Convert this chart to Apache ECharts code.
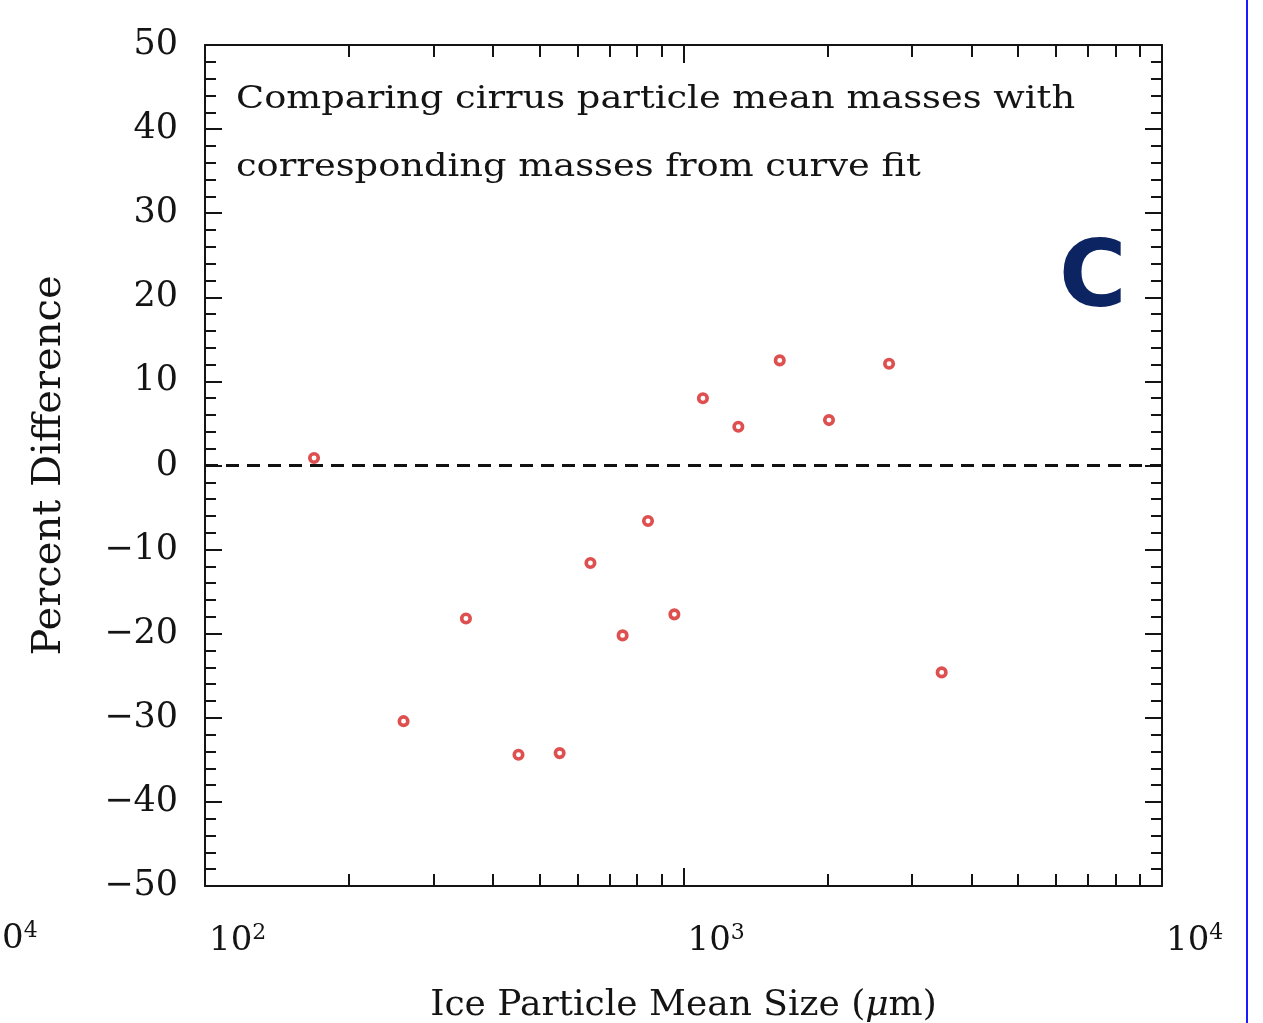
<!DOCTYPE html>
<html>
<head>
<meta charset="utf-8">
<script src="https://cdn.jsdelivr.net/npm/echarts@6/dist/echarts.min.js"></script>
<style>
  html, body { margin: 0; padding: 0; background: #ffffff; }
  #main { width: 1263px; height: 1023px; }
</style>
</head>
<body>
<div id="main"></div>
<script>
  // mean size (um) and percent difference
  var sizes   = [169, 260, 351, 452, 551, 639, 746, 843, 957, 1098, 1302, 1589, 2014, 2689, 3464];
  var pctDiff = [0.9, -30.4, -18.2, -34.4, -34.2, -11.6, -20.2, -6.6, -17.7, 8.0, 4.6, 12.5, 5.4, 12.1, -24.6];

  var majorX = [100, 1000, 10000];
  var minorX = [200, 300, 400, 500, 600, 700, 800, 900, 2000, 3000, 4000, 5000, 6000, 7000, 8000, 9000];
  var yTicks = [-50, -40, -30, -20, -10, 0, 10, 20, 30, 40, 50];

  var serif = 'DejaVu Serif';
  var ink = '#141414';

  var myChart = echarts.init(document.getElementById('main'));

  function xAxisBase(pos, custom, len, showLine) {
    return {
      type: 'log',
      logBase: 10,
      min: 100,
      max: 10000,
      position: pos,
      splitLine: {show: false},
      axisLine: {show: showLine, onZero: false, lineStyle: {color: ink, width: 2}},
      axisTick: {show: true, inside: true, length: len, customValues: custom, lineStyle: {color: ink, width: 2}},
      axisLabel: {show: false}
    };
  }

  var bottomMajor = xAxisBase('bottom', majorX, 18, true);
  bottomMajor.axisLabel = {
    show: true,
    customValues: majorX,
    showMinLabel: true,
    showMaxLabel: true,
    margin: 36,
    align: 'left',
    padding: [0, 0, 0, 4],
    formatter: function (v) {
      return '{b|10}{s|' + Math.round(Math.log10(v)) + '}';
    },
    rich: {
      b: {fontFamily: serif, fontSize: 34, color: ink, lineHeight: 38},
      s: {fontFamily: serif, fontSize: 22, color: ink, verticalAlign: 'top', lineHeight: 38}
    }
  };
  bottomMajor.name = 'Ice Particle Mean Size ({i|\u03bc}m)';
  bottomMajor.nameLocation = 'middle';
  bottomMajor.nameGap = 102;
  bottomMajor.nameTextStyle = {
    fontFamily: serif, fontSize: 36, color: ink,
    rich: {i: {fontFamily: serif, fontStyle: 'italic', fontSize: 36, color: ink}}
  };

  var option = {
    animation: false,
    backgroundColor: '#ffffff',
    grid: {left: 205, right: 101, top: 45, bottom: 137, outerBoundsMode: 'none', containLabel: false},
    xAxis: [
      bottomMajor,
      xAxisBase('bottom', minorX, 12, false),
      xAxisBase('top', majorX, 18, true),
      xAxisBase('top', minorX, 12, false)
    ],
    yAxis: [
      {
        type: 'value',
        min: -50,
        max: 50,
        interval: 10,
        position: 'left',
        name: 'Percent Difference',
        nameLocation: 'middle',
        nameGap: 135,
        nameTextStyle: {fontFamily: serif, fontSize: 40, color: ink},
        splitLine: {show: false},
        axisLine: {show: true, onZero: false, lineStyle: {color: ink, width: 2}},
        axisTick: {show: true, inside: true, length: 17, lineStyle: {color: ink, width: 2}},
        minorTick: {show: true, splitNumber: 5, length: 11, lineStyle: {color: ink, width: 2}},
        axisLabel: {
          margin: 27,
          fontFamily: serif,
          fontSize: 35,
          color: ink,
          customValues: yTicks,
          formatter: function (v) { return v < 0 ? '\u2212' + Math.abs(v) : String(v); }
        }
      },
      {
        type: 'value',
        min: -50,
        max: 50,
        interval: 10,
        position: 'right',
        splitLine: {show: false},
        axisLine: {show: true, onZero: false, lineStyle: {color: ink, width: 2}},
        axisTick: {show: true, inside: true, length: 17, lineStyle: {color: ink, width: 2}},
        minorTick: {show: true, splitNumber: 5, length: 11, lineStyle: {color: ink, width: 2}},
        axisLabel: {show: false}
      }
    ],
    graphic: [
      {
        type: 'text', left: 236, top: 84, scaleX: 1.15, silent: true,
        style: {text: 'Comparing cirrus particle mean masses with', font: '32px "DejaVu Serif"', fill: ink}
      },
      {
        type: 'text', left: 236, top: 152, scaleX: 1.15, silent: true,
        style: {text: 'corresponding masses from curve fit', font: '32px "DejaVu Serif"', fill: ink}
      },
      {
        type: 'text', left: 1059, top: 236, silent: true,
        style: {text: 'C', font: 'bold 92px "DejaVu Sans"', fill: '#0d2462'}
      },
      {
        type: 'text', left: 2, top: 920, silent: true,
        style: {
          text: '{b|0}{s|4}',
          rich: {
            b: {fontFamily: serif, fontSize: 34, fill: ink, lineHeight: 38},
            s: {fontFamily: serif, fontSize: 22, fill: ink, verticalAlign: 'top', lineHeight: 38}
          }
        }
      },
      {
        type: 'rect', left: 1246, top: 0, silent: true,
        shape: {width: 2, height: 1023},
        style: {fill: '#1a1aff'}
      }
    ],
    series: [
      {
        name: 'Percent Difference',
        type: 'scatter',
        xAxisIndex: 0,
        yAxisIndex: 0,
        data: sizes.map(function (s, i) { return [s, pctDiff[i]]; }),
        symbol: 'circle',
        symbolSize: 8.5,
        itemStyle: {color: '#ffffff', borderColor: '#d62424', borderWidth: 3.6},
        markLine: {
          silent: true,
          symbol: 'none',
          label: {show: false},
          lineStyle: {color: '#111111', width: 3, type: [13, 8]},
          data: [{yAxis: 0}]
        }
      }
    ]
  };

  myChart.setOption(option);
  window.addEventListener('resize', function () {
    myChart.resize();
  });
</script>
</body>
</html>
